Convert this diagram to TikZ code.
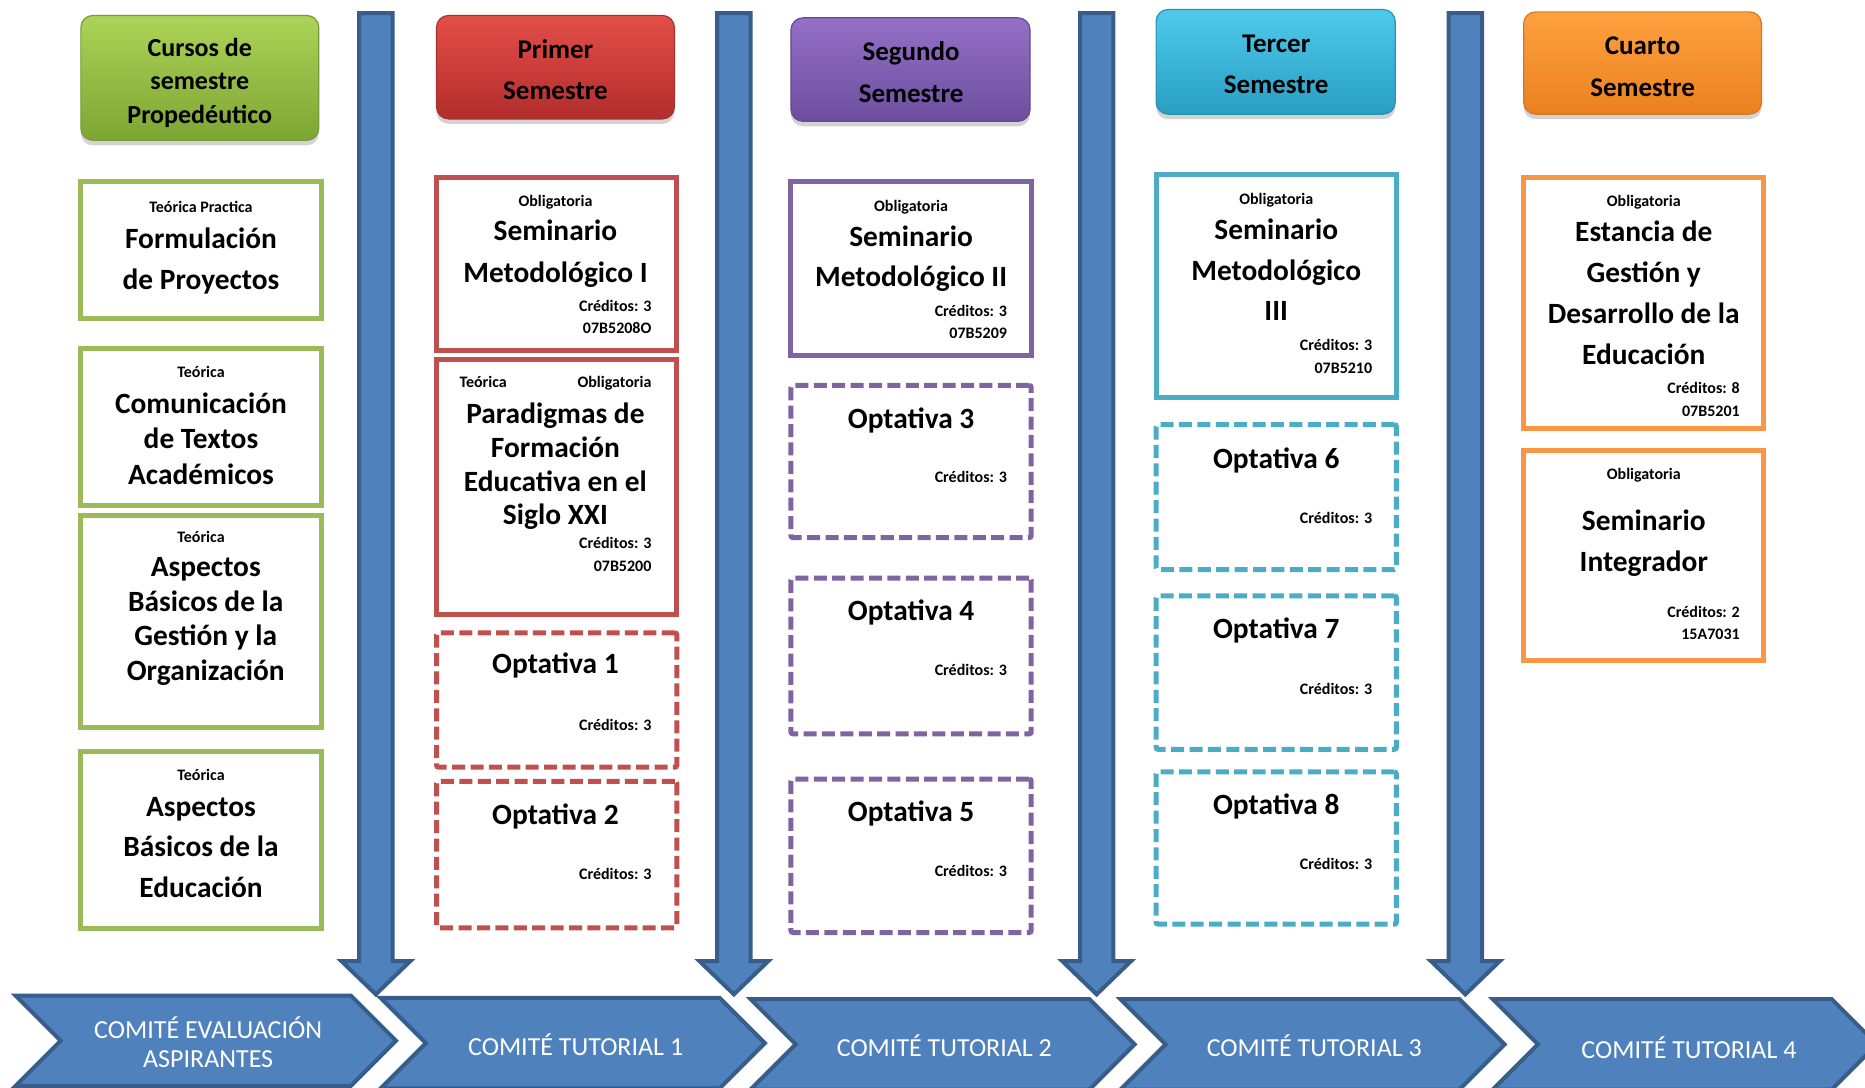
\documentclass[tikz,border=0pt]{standalone}
\usepackage{fontspec}
\setmainfont{Carlito}
\usetikzlibrary{shadows}
\definecolor{cgrn}{RGB}{155,187,89}
\definecolor{cred}{RGB}{192,80,77}
\definecolor{cpur}{RGB}{128,100,162}
\definecolor{ccya}{RGB}{75,172,198}
\definecolor{cora}{RGB}{247,150,70}
\definecolor{bfill}{RGB}{79,129,189}
\definecolor{bline}{RGB}{56,93,138}
\newcommand\bx[6]{\node[#6, anchor=north west, minimum width={(#4-#2)*0.5947pt}, minimum height={(#5-#3)*0.5947pt}] (#1) at (#2,#3) {};}
\newcommand\varrow[1]{\draw[varr] (#1-14,11) -- (#1+14,11) -- (#1+14,808) -- (#1+29,808) -- (#1,836) -- (#1-29,808) -- (#1-14,808) -- cycle;}
\newcommand\chev[3]{\draw[chevr] (#1,#2) -- (#3-38,#2) -- (#3,#2+38) -- (#3-38,#2+76) -- (#1,#2+76) -- (#1+38,#2+38) -- cycle;}
\begin{document}
\begin{tikzpicture}[x=0.5947pt,y=-0.5947pt,
  box/.style={draw, line width=2.5pt, fill=white, inner sep=0pt, outer sep=0pt},
  optbox/.style={box, dash pattern=on 6.5pt off 2.7pt, rounded corners=1pt},
  head/.style={rounded corners=6pt, inner sep=0pt, outer sep=0pt, line width=0.6pt,
    drop shadow={opacity=0.35, shadow xshift=0pt, shadow yshift=-2.5pt}},
  bigt/.style={font=\bfseries\fontsize{14.7pt}{#1}\selectfont, align=center, inner sep=0pt},
  bigt/.default=20.8pt,
  smallt/.style={font=\bfseries\fontsize{8pt}{11.3pt}\selectfont, align=center, inner sep=0pt},
  credt/.style={smallt, align=right, anchor=east},
  headt/.style={font=\bfseries\fontsize{13.5pt}{20.8pt}\selectfont, align=center, inner sep=0pt},
  greent/.style={font=\bfseries\fontsize{13pt}{16.65pt}\selectfont, align=center, inner sep=0pt},
  chevt/.style={font=\fontsize{13pt}{#1}\selectfont, text=white, align=center, inner sep=0pt},
  chevt/.default=15pt,
  varr/.style={fill=bfill, draw=bline, line width=2pt, line join=miter},
  chevr/.style={fill=bfill, draw=bline, line width=2pt, line join=miter}]
\useasboundingbox (0,0) rectangle (1568,914);
\clip (0,0) rectangle (1568,914);

% vertical arrows
\varrow{316}
\varrow{617}
\varrow{922}
\varrow{1232}

% chevrons
\chev{13}{837}{333}
\chev{320}{839}{643}
\chev{631}{840}{954}
\chev{942}{840}{1265}
\chev{1255}{840}{1578}
\node[chevt=14.9pt] (c1) at (175,880) {\strut COMITÉ EVALUACIÓN\\\strut ASPIRANTES};
\node[chevt] (c2) at (484,882) {\strut COMITÉ TUTORIAL 1};
\node[chevt] (c3) at (794,883) {\strut COMITÉ TUTORIAL 2};
\node[chevt] (c4) at (1105,883) {\strut COMITÉ TUTORIAL 3};
\node[chevt] (c5) at (1420,885) {\strut COMITÉ TUTORIAL 4};

% headers
\bx{h1}{68}{13}{268}{118}{head, top color={rgb,255:red,172;green,212;blue,88}, bottom color={rgb,255:red,125;green,165;blue,50}, draw={rgb,255:red,120;green,155;blue,55}}
\bx{h2}{367}{13}{567}{100}{head, top color={rgb,255:red,228;green,78;blue,72}, bottom color={rgb,255:red,178;green,45;blue,44}, draw={rgb,255:red,165;green,50;blue,45}}
\bx{h3}{665}{15}{866}{102}{head, top color={rgb,255:red,148;green,112;blue,198}, bottom color={rgb,255:red,108;green,78;blue,158}, draw={rgb,255:red,100;green,75;blue,145}}
\bx{h4}{972}{8}{1173}{96}{head, top color={rgb,255:red,78;green,202;blue,236}, bottom color={rgb,255:red,40;green,158;blue,195}, draw={rgb,255:red,40;green,145;blue,180}}
\bx{h5}{1281}{10}{1481}{96}{head, top color={rgb,255:red,253;green,162;blue,62}, bottom color={rgb,255:red,236;green,128;blue,32}, draw={rgb,255:red,215;green,120;blue,40}}
\node[greent] (th1) at (168,70) {\strut Cursos de\\\strut semestre\\\strut Propedéutico};
\node[headt] (th2) at (467,59.5) {\strut Primer\\\strut Semestre};
\node[headt] (th3) at (766,61.5) {\strut Segundo\\\strut Semestre};
\node[headt] (th4) at (1073,54.5) {\strut Tercer\\\strut Semestre};
\node[headt] (th5) at (1381,56.5) {\strut Cuarto\\\strut Semestre};

% column 1
\bx{b1a}{68}{153}{270}{268}{box, draw=cgrn}
\node[smallt] (s1a) at (169,174.5) {\strut Teórica Practica};
\node[bigt] (t1a) at (169,219) {\strut Formulación\\\strut de Proyectos};
\bx{b1b}{68}{293}{270}{425}{box, draw=cgrn}
\node[smallt] (s1b) at (169,314) {\strut Teórica};
\node[bigt=17.8pt] (t1b) at (169,371.5) {\strut Comunicación\\\strut de Textos\\\strut Académicos};
\bx{b1c}{68}{433}{270}{612}{box, draw=cgrn}
\node[smallt] (s1c) at (169,452) {\strut Teórica};
\node[bigt=17.4pt] (t1c) at (173,522.5) {\strut Aspectos\\\strut Básicos de la\\\strut Gestión y la\\\strut Organización};
\bx{b1d}{68}{632}{270}{781}{box, draw=cgrn}
\node[smallt] (s1d) at (169,652) {\strut Teórica};
\node[bigt=20.2pt] (t1d) at (169,713.5) {\strut Aspectos\\\strut Básicos de la\\\strut Educación};

% column 2
\bx{b2a}{367}{149}{569}{295}{box, draw=cred}
\node[smallt] (s2a) at (467,170) {\strut Obligatoria};
\node[bigt] (t2a) at (467,213) {\strut Seminario\\\strut Metodológico I};
\node[credt] (k2a) at (548,267.5) {\strut Créditos: 3\\\strut 07B5208O};
\bx{b2b}{367}{302}{569}{517}{box, draw=cred}
\node[smallt, anchor=west] (s2b) at (386,322) {\strut Teórica};
\node[smallt, anchor=east] (r2b) at (548,322) {\strut Obligatoria};
\node[bigt=16.85pt] (t2b) at (467,393) {\strut Paradigmas de\\\strut Formación\\\strut Educativa en el\\\strut Siglo XXI};
\node[credt] (k2b) at (548,467) {\strut Créditos: 3\\\strut 07B5200};
\bx{b2c}{367}{532}{569}{645}{optbox, draw=cred}
\node[bigt] (t2c) at (467,559.5) {\strut Optativa 1};
\node[credt] (k2c) at (548,610) {\strut Créditos: 3};
\bx{b2d}{367}{657}{569}{780}{optbox, draw=cred}
\node[bigt] (t2d) at (467,686.5) {\strut Optativa 2};
\node[credt] (k2d) at (548,736) {\strut Créditos: 3};

% column 3
\bx{b3a}{665}{153}{867}{299}{box, draw=cpur}
\node[smallt] (s3a) at (766,174) {\strut Obligatoria};
\node[bigt=20.2pt] (t3a) at (766,217.5) {\strut Seminario\\\strut Metodológico II};
\node[credt] (k3a) at (847,271.5) {\strut Créditos: 3\\\strut 07B5209};
\bx{b3b}{665}{324}{867}{452}{optbox, draw=cpur}
\node[bigt] (t3b) at (766,353.5) {\strut Optativa 3};
\node[credt] (k3b) at (847,402) {\strut Créditos: 3};
\bx{b3c}{665}{486}{867}{617}{optbox, draw=cpur}
\node[bigt] (t3c) at (766,514.5) {\strut Optativa 4};
\node[credt] (k3c) at (847,564) {\strut Créditos: 3};
\bx{b3d}{665}{655}{867}{784}{optbox, draw=cpur}
\node[bigt] (t3d) at (766,683.5) {\strut Optativa 5};
\node[credt] (k3d) at (847,733) {\strut Créditos: 3};

% column 4
\bx{b4a}{972}{147}{1174}{334}{box, draw=ccya}
\node[smallt] (s4a) at (1073,168) {\strut Obligatoria};
\node[bigt=20.2pt] (t4a) at (1073,228.8) {\strut Seminario\\\strut Metodológico\\\strut III};
\node[credt] (k4a) at (1154,300.5) {\strut Créditos: 3\\\strut 07B5210};
\bx{b4b}{972}{357}{1174}{479}{optbox, draw=ccya}
\node[bigt] (t4b) at (1073,386.5) {\strut Optativa 6};
\node[credt] (k4b) at (1154,436) {\strut Créditos: 3};
\bx{b4c}{972}{501}{1174}{630}{optbox, draw=ccya}
\node[bigt] (t4c) at (1073,529.5) {\strut Optativa 7};
\node[credt] (k4c) at (1154,580) {\strut Créditos: 3};
\bx{b4d}{972}{649}{1174}{777}{optbox, draw=ccya}
\node[bigt] (t4d) at (1073,677.5) {\strut Optativa 8};
\node[credt] (k4d) at (1154,727) {\strut Créditos: 3};

% column 5
\bx{b5a}{1281}{149}{1483}{360}{box, draw=cora}
\node[smallt] (s5a) at (1382,170) {\strut Obligatoria};
\node[bigt=20.4pt] (t5a) at (1382,248) {\strut Estancia de\\\strut Gestión y\\\strut Desarrollo de la\\\strut Educación};
\node[credt] (k5a) at (1463,336.5) {\strut Créditos: 8\\\strut 07B5201};
\bx{b5b}{1281}{379}{1483}{555}{box, draw=cora}
\node[smallt] (s5b) at (1382,399) {\strut Obligatoria};
\node[bigt=20.2pt] (t5b) at (1382,456.5) {\strut Seminario\\\strut Integrador};
\node[credt] (k5b) at (1463,524.5) {\strut Créditos: 2\\\strut 15A7031};
\end{tikzpicture}
\end{document}
